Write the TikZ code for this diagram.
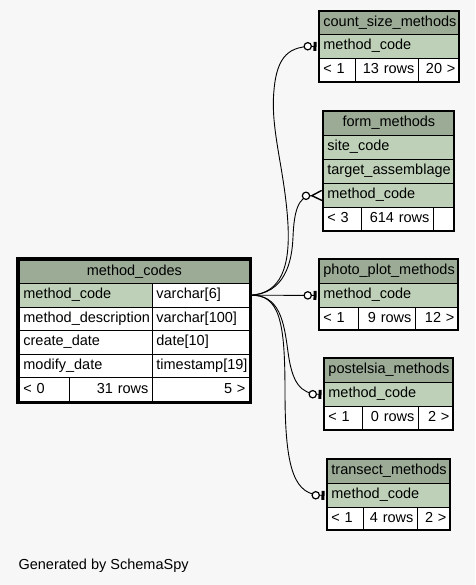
\documentclass[tikz,border=0pt]{standalone}
\usepackage{fontspec}
\setmainfont{Liberation Sans}
\usetikzlibrary{arrows.meta}

\definecolor{hdrfill}{HTML}{9BAB96}
\definecolor{keyfill}{HTML}{BED1B8}
\definecolor{pagebg}{HTML}{F7F7F7}

\tikzset{
  cell/.style={draw, line width=0.8pt, anchor=north west, inner xsep=4pt, inner ysep=0pt,
    text height=10.5pt, text depth=3.5pt, font=\fontsize{14.5}{16}\selectfont, fill=white, align=left},
  hdr/.style={fill=hdrfill, align=center},
  key/.style={fill=keyfill},
  rel/.style={line width=0.9pt},
  optone/.style={shorten >=2.5pt,
    -{Circle[open,fill=white,length=8.5pt,width=8.5pt,line width=1.2pt,sep=1.5pt]Bar[width=9pt,line width=3pt]}},
  optmany/.style={shorten >=0.5pt,
    -{Circle[open,fill=white,length=8.5pt,width=8.5pt,line width=1.2pt]Straight Barb[reversed,length=10pt,width=10pt,line width=1.4pt]}},
}
% one table cell: name, corner, width, height, options, text
\newcommand{\tcell}[6]{\node[cell, minimum width=#3, minimum height=#4,
  text width=\the\dimexpr#3pt-8pt\relax, #5] (#1) at (#2) {#6};}

\begin{document}
\begin{tikzpicture}[x=1pt, y=-1pt]
    \fill[pagebg] (0,0) rectangle (475,585);
    \useasboundingbox (0,0) rectangle (475,585);

    % method_codes
    \tcell{mc}{19,259.5}{230}{23.5}{hdr}{method\_codes}
    \tcell{mcCode}{19,283}{133}{23.6}{key}{method\_code}
    \tcell{mcCodeT}{152,283}{97}{23.6}{}{varchar[6]}
    \tcell{mcDesc}{19,306.6}{133}{23.6}{}{method\_description}
    \tcell{mcDescT}{152,306.6}{97}{23.6}{}{varchar[100]}
    \tcell{mcCreate}{19,330.2}{133}{23.6}{}{create\_date}
    \tcell{mcCreateT}{152,330.2}{97}{23.6}{}{date[10]}
    \tcell{mcModify}{19,353.8}{133}{23.6}{}{modify\_date}
    \tcell{mcModifyT}{152,353.8}{97}{23.6}{}{timestamp[19]}
    \tcell{mcParents}{19,377.4}{50}{23.6}{}{< 0}
    \tcell{mcRows}{69,377.4}{83}{23.6}{align=right}{31 rows}
    \tcell{mcChildren}{152,377.4}{97}{23.6}{align=right}{5 >}
    \draw[line width=3pt] (17.5,258) rectangle (250.5,402.5);

    % count_size_methods
    \tcell{cs}{319,11}{140}{23}{hdr}{count\_size\_methods}
    \tcell{csCode}{319,34}{140}{24}{key}{method\_code}
    \tcell{csParents}{319,58}{36}{24}{}{< 1}
    \tcell{csRows}{355,58}{63}{24}{align=right}{13 rows}
    \tcell{csChildren}{418,58}{41}{24}{align=right}{20 >}
    \draw[line width=1.2pt] (319,11) rectangle (459,82);

    % form_methods
    \tcell{fm}{323,111}{131}{24}{hdr}{form\_methods}
    \tcell{fmSite}{323,135}{131}{24}{key}{site\_code}
    \tcell{fmTarget}{323,159}{131}{24}{key}{target\_assemblage}
    \tcell{fmCode}{323,183}{131}{24}{key}{method\_code}
    \tcell{fmParents}{323,207}{38}{24}{}{< 3}
    \tcell{fmRows}{361,207}{72}{24}{align=right}{614 rows}
    \tcell{fmChildren}{433,207}{21}{24}{}{}
    \draw[line width=1.2pt] (323,111) rectangle (454,231);

    % photo_plot_methods
    \tcell{pp}{319,259}{139}{24}{hdr}{photo\_plot\_methods}
    \tcell{ppCode}{319,283}{139}{24}{key}{method\_code}
    \tcell{ppParents}{319,307}{39}{23}{}{< 1}
    \tcell{ppRows}{358,307}{57}{23}{align=right}{9 rows}
    \tcell{ppChildren}{415,307}{43}{23}{align=right}{12 >}
    \draw[line width=1.2pt] (319,259) rectangle (458,330);

    % postelsia_methods
    \tcell{pm}{324,358}{129}{24}{hdr}{postelsia\_methods}
    \tcell{pmCode}{324,382}{129}{24}{key}{method\_code}
    \tcell{pmParents}{324,406}{38}{24}{}{< 1}
    \tcell{pmRows}{362,406}{56}{24}{align=right}{0 rows}
    \tcell{pmChildren}{418,406}{35}{24}{align=right}{2 >}
    \draw[line width=1.2pt] (324,358) rectangle (453,430);

    % transect_methods
    \tcell{tm}{327,459}{123}{24}{hdr}{transect\_methods}
    \tcell{tmCode}{327,483}{123}{24}{key}{method\_code}
    \tcell{tmParents}{327,507}{36}{23}{}{< 1}
    \tcell{tmRows}{363,507}{54}{23}{align=right}{4 rows}
    \tcell{tmChildren}{417,507}{33}{23}{align=right}{2 >}
    \draw[line width=1.2pt] (327,459) rectangle (450,530);

    % relationships
    \draw[rel, optone] (mcCodeT.east) .. controls (282,294) and (290,265) .. (288,225)
        .. controls (285,170) and (270,130) .. (274,90) .. controls (277,55) and (290,46) .. (csCode.west);
    \draw[rel, optmany] (mcCodeT.east) .. controls (285,294) and (292,262) .. (293,237)
        .. controls (294,212) and (298,196) .. (fmCode.west);
    \draw[rel, optone] (mcCodeT.east) -- (ppCode.west);
    \draw[rel, optone] (mcCodeT.east) .. controls (280,294) and (284,322) .. (288,352)
        .. controls (292,382) and (300,394) .. (pmCode.west);
    \draw[rel, optone] (mcCodeT.east) .. controls (280,294) and (285,322) .. (285,392)
        .. controls (285,472) and (295,495) .. (tmCode.west);

    \node[anchor=west, font=\fontsize{14.5}{16}\selectfont] (credit) at (15,566) {Generated by SchemaSpy};
\end{tikzpicture}
\end{document}
